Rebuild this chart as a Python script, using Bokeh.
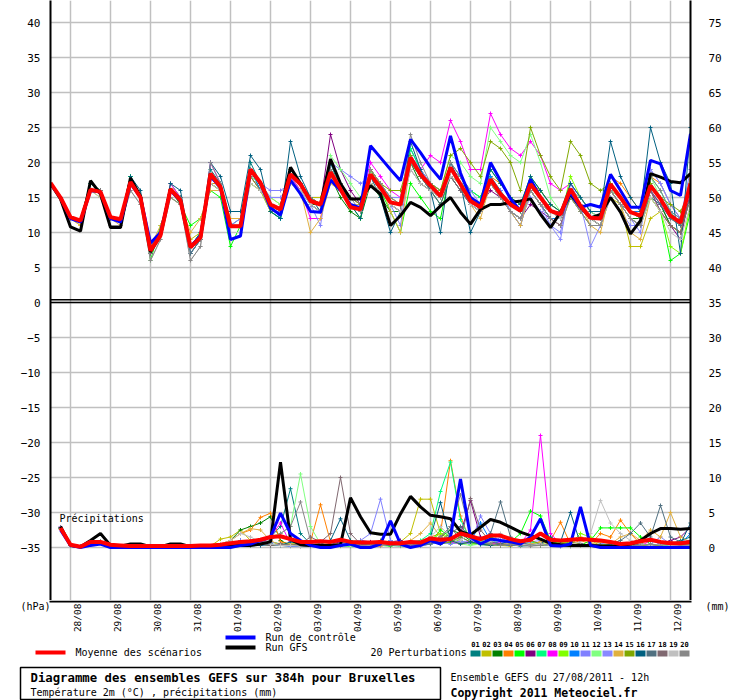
import math
from bokeh.plotting import figure
from bokeh.layouts import column
from bokeh.models import Range1d, LinearAxis, FixedTicker, Label, Span, Grid
from bokeh.core.properties import value
from bokeh.embed import file_html
from bokeh.resources import INLINE

# ---------------- data ----------------
HOURS = list(range(0, 385, 6))          # 6-hourly steps, 0..384 h
PRECIP_HOURS = HOURS[1:]
DATE_HOURS = [12, 36, 60, 84, 108, 132, 156, 180, 204, 228, 252, 276, 300, 324, 348, 372]
DATE_LABELS = ["28/08", "29/08", "30/08", "31/08", "01/09", "02/09", "03/09", "04/09",
               "05/09", "06/09", "07/09", "08/09", "09/09", "10/09", "11/09", "12/09"]
LEFT_TICKS = [-35, -30, -25, -20, -15, -10, -5, 0, 5, 10, 15, 20, 25, 30, 35, 40]
RIGHT_TICKS = [0, 5, 10, 15, 20, 25, 30, 35, 40, 45, 50, 55, 60, 65, 70, 75]

# temperature 2m (degC)
T_MEAN = [17.1, 15.0, 12.2, 11.7, 16.1, 15.8, 12.2, 11.9, 17.2, 15.0, 7.4, 9.6, 16.2,
          14.6, 7.9, 9.3, 18.4, 16.5, 10.9, 10.9, 19.0, 17.1, 14.0, 13.3, 18.3,
          16.9, 14.5, 14.0, 18.6, 16.2, 13.6, 13.3, 18.3, 16.4, 14.3, 14.0, 20.7,
          18.3, 16.7, 15.2, 19.3, 16.9, 14.5, 13.6, 17.6, 15.5, 14.0, 13.1, 16.9,
          15.0, 13.1, 12.6, 16.2, 13.8, 12.1, 12.0, 16.9, 15.0, 12.9, 12.4, 16.7,
          14.8, 12.4, 11.4, 17.0]
T_CTRL = [17.0, 15.0, 12.0, 11.5, 16.0, 15.8, 12.0, 11.5, 17.0, 15.0, 8.5, 10.0, 16.0,
          14.5, 8.0, 9.5, 18.0, 16.5, 9.0, 9.5, 19.0, 17.0, 13.5, 12.5, 17.5,
          15.5, 13.0, 12.9, 17.5, 16.0, 14.0, 13.5, 22.4, 20.7, 19.0, 17.4, 23.3,
          21.4, 19.3, 17.6, 23.8, 18.5, 15.0, 14.0, 20.0, 17.4, 14.8, 13.1, 17.6,
          15.0, 13.1, 12.6, 15.7, 13.6, 14.0, 13.6, 18.3, 16.0, 13.6, 13.6, 20.3,
          19.8, 16.0, 15.3, 24.1]
T_GFS = [17.0, 14.8, 10.8, 10.2, 17.4, 15.5, 10.7, 10.7, 17.8, 15.2, 7.2, 9.6, 16.2,
         14.6, 7.9, 9.3, 18.4, 16.5, 10.9, 10.9, 19.0, 17.0, 14.0, 13.3, 19.3,
         17.0, 14.5, 14.0, 20.5, 17.0, 14.8, 14.8, 16.7, 15.5, 11.0, 12.4, 14.3,
         13.6, 12.4, 13.8, 15.0, 12.9, 11.2, 13.3, 14.0, 14.0, 14.3, 14.5, 14.8,
         12.6, 10.7, 12.9, 15.5, 13.6, 12.1, 12.6, 15.0, 12.9, 9.8, 11.7, 18.4,
         17.9, 17.3, 17.1, 18.4]

t_p01 = [17, 15, 12, 12, 16, 16, 12, 12, 18, 15, 8, 10, 16, 15, 7, 9, 19, 17, 11, 12, 20,
         17, 13, 12, 19, 17, 14, 13, 20, 16, 14, 13, 19, 17, 15, 14, 22, 19, 17, 15, 20,
         18, 15, 13, 17, 15, 13, 12, 16, 14, 12, 12, 15, 13, 11, 11, 16, 14, 12, 11, 15,
         14, 11, 10, 15]
t_p02 = [17, 15, 12, 11, 16, 15, 12, 12, 17, 15, 8, 10, 17, 15, 9, 10, 17, 16, 12, 12, 18,
         16, 15, 14, 17, 16, 15, 15, 18, 17, 15, 14, 17, 16, 15, 14, 20, 18, 17, 16, 18,
         16, 15, 14, 17, 15, 14, 13, 16, 14, 12, 11, 15, 13, 11, 11, 15, 14, 8, 8, 12,
         13, 11, 10, 15]
t_p03 = [17, 15, 12, 12, 17, 16, 12, 12, 18, 15, 7, 10, 16, 14, 7, 9, 18, 16, 11, 11, 19,
         16, 14, 13, 17, 16, 14, 14, 18, 15, 13, 12, 17, 15, 13, 13, 20, 17, 16, 14, 18,
         16, 14, 13, 17, 15, 13, 12, 16, 14, 12, 12, 15, 14, 12, 11, 16, 14, 12, 12, 16,
         14, 11, 10, 16]
t_p04 = [17, 15, 12, 12, 16, 16, 12, 12, 17, 15, 7, 10, 16, 15, 8, 9, 17, 17, 11, 11, 18,
         16, 14, 13, 18, 17, 15, 14, 19, 17, 15, 14, 19, 17, 15, 15, 21, 19, 17, 16, 19,
         18, 16, 15, 18, 17, 15, 14, 17, 16, 14, 13, 16, 15, 13, 13, 18, 17, 15, 13, 18,
         17, 14, 12, 18]
t_p05 = [17, 15, 12, 12, 16, 16, 12, 12, 18, 15, 6, 11, 15, 14, 11, 12, 16, 15, 8, 11, 17,
         16, 13, 12, 18, 16, 14, 13, 19, 17, 14, 12, 19, 16, 13, 10, 17, 15, 13, 12, 19,
         18, 16, 15, 19, 17, 15, 14, 18, 16, 14, 13, 15, 14, 12, 11, 16, 15, 13, 12, 15,
         13, 6, 7, 13]
t_p06 = [17, 15, 12, 12, 16, 16, 12, 12, 17, 15, 7, 10, 16, 15, 8, 9, 18, 17, 11, 11, 19,
         17, 14, 13, 19, 17, 15, 14, 24, 19, 16, 14, 18, 16, 14, 13, 20, 18, 16, 15, 18,
         17, 15, 14, 16, 15, 13, 12, 14, 13, 12, 11, 16, 14, 12, 11, 16, 14, 12, 11, 16,
         13, 11, 9, 16]
t_p07 = [17, 15, 12, 12, 17, 16, 12, 12, 18, 15, 7, 10, 17, 15, 8, 10, 18, 17, 10, 10, 19,
         17, 14, 13, 18, 17, 15, 14, 19, 16, 14, 13, 19, 17, 15, 15, 22, 19, 17, 16, 19,
         17, 16, 15, 18, 16, 14, 13, 17, 15, 13, 13, 17, 15, 13, 12, 16, 15, 13, 12, 18,
         16, 13, 11, 17]
t_p08 = [17, 15, 12, 12, 16, 16, 12, 12, 17, 15, 7, 10, 17, 15, 8, 9, 20, 17, 11, 11, 19,
         17, 14, 13, 18, 16, 12, 12, 19, 17, 15, 14, 20, 18, 16, 15, 21, 19, 21, 20, 26,
         23, 19, 19, 27, 24, 22, 21, 23, 21, 17, 16, 17, 15, 13, 12, 16, 15, 13, 12, 16,
         14, 12, 11, 16]
t_p09 = [17, 15, 12, 12, 16, 16, 12, 12, 17, 15, 7, 10, 16, 15, 8, 9, 17, 16, 11, 11, 18,
         16, 14, 13, 18, 17, 15, 14, 19, 16, 14, 13, 18, 16, 14, 14, 21, 18, 16, 15, 18,
         17, 15, 14, 17, 15, 13, 12, 16, 14, 13, 12, 18, 15, 13, 12, 16, 14, 12, 11, 15,
         13, 8, 7, 14]
t_p10 = [17, 15, 12, 12, 16, 16, 12, 12, 17, 15, 8, 10, 16, 15, 8, 9, 18, 17, 10, 10, 19,
         16, 14, 12, 18, 17, 15, 14, 18, 16, 14, 13, 19, 17, 14, 14, 20, 18, 16, 15, 19,
         17, 15, 14, 18, 16, 13, 11, 16, 14, 12, 12, 16, 14, 12, 12, 17, 15, 13, 13, 17,
         15, 13, 12, 16]
t_p11 = [17, 15, 12, 12, 16, 16, 12, 12, 17, 15, 8, 10, 16, 15, 8, 9, 18, 17, 11, 11, 18,
         17, 16, 16, 17, 16, 14, 11, 20, 19, 18, 17, 18, 16, 14, 11, 21, 19, 17, 16, 19,
         18, 16, 14, 17, 16, 13, 11, 16, 14, 11, 10, 17, 15, 13, 12, 16, 14, 12, 10, 19,
         17, 14, 12, 19]
t_p12 = [17, 15, 12, 12, 16, 16, 12, 12, 17, 15, 8, 10, 16, 15, 8, 10, 17, 16, 12, 12, 18,
         17, 15, 14, 19, 17, 14, 13, 21, 19, 17, 15, 18, 16, 14, 13, 20, 18, 17, 16, 21,
         20, 18, 17, 25, 23, 21, 20, 24, 20, 15, 13, 16, 15, 13, 12, 16, 15, 13, 12, 18,
         15, 12, 11, 16]
t_p13 = [17, 15, 12, 12, 16, 16, 12, 12, 17, 15, 7, 10, 16, 15, 7, 9, 18, 16, 11, 12, 19,
         17, 15, 15, 17, 16, 14, 13, 19, 17, 15, 14, 19, 17, 15, 15, 21, 19, 17, 16, 18,
         16, 14, 13, 17, 15, 13, 12, 15, 13, 11, 9, 17, 14, 8, 11, 15, 13, 11, 11, 19,
         17, 14, 12, 17]
t_p14 = [17, 15, 12, 11, 16, 16, 12, 11, 17, 15, 8, 11, 15, 14, 10, 12, 16, 16, 12, 12, 17,
         16, 13, 13, 17, 16, 10, 12, 17, 16, 14, 14, 19, 17, 13, 10, 20, 18, 16, 15, 19,
         17, 14, 12, 17, 15, 13, 11, 16, 14, 13, 13, 16, 14, 11, 10, 16, 14, 10, 9, 15,
         13, 11, 10, 18]
t_p15 = [17, 15, 12, 12, 16, 16, 12, 12, 17, 15, 7, 10, 16, 15, 8, 9, 18, 17, 11, 11, 19,
         17, 14, 13, 19, 17, 15, 14, 19, 17, 15, 14, 19, 17, 16, 16, 21, 18, 17, 16, 21,
         22, 20, 18, 23, 22, 20, 16, 25, 21, 18, 16, 23, 21, 17, 16, 17, 15, 13, 12, 17,
         15, 14, 13, 16]
t_p16 = [17, 15, 12, 12, 17, 16, 12, 12, 18, 16, 7, 10, 17, 16, 8, 10, 20, 18, 13, 13, 21,
         19, 13, 12, 23, 18, 15, 13, 20, 17, 14, 12, 18, 15, 10, 13, 23, 19, 16, 10, 20,
         17, 10, 13, 19, 17, 15, 14, 18, 16, 14, 13, 17, 15, 13, 13, 23, 18, 15, 13, 25,
         20, 17, 7, 25]
t_p17 = [17, 15, 12, 12, 16, 16, 12, 12, 17, 15, 8, 10, 16, 15, 7, 9, 18, 17, 11, 11, 19,
         17, 14, 13, 18, 17, 14, 13, 19, 16, 14, 13, 18, 16, 14, 13, 20, 18, 16, 14, 18,
         16, 14, 13, 17, 15, 14, 13, 16, 14, 13, 13, 15, 14, 12, 12, 16, 14, 13, 12, 16,
         14, 12, 11, 15]
t_p18 = [17, 15, 12, 12, 16, 16, 12, 12, 17, 15, 7, 10, 16, 15, 8, 9, 17, 16, 11, 11, 18,
         16, 14, 13, 18, 17, 14, 13, 18, 16, 14, 13, 18, 16, 14, 13, 19, 17, 16, 15, 18,
         16, 14, 13, 17, 15, 13, 12, 16, 14, 13, 12, 16, 14, 12, 11, 16, 14, 12, 11, 16,
         13, 11, 10, 15]
t_p19 = [17, 15, 12, 12, 16, 15, 11, 11, 16, 14, 6, 9, 15, 14, 6, 8, 17, 16, 10, 10, 17,
         16, 14, 13, 17, 16, 14, 13, 18, 16, 14, 13, 17, 16, 14, 13, 19, 17, 16, 15, 18,
         17, 14, 13, 17, 15, 13, 12, 16, 14, 13, 12, 16, 14, 12, 11, 16, 14, 12, 11, 15,
         13, 10, 9, 14]
t_p20 = [17, 15, 12, 12, 16, 16, 11, 11, 16, 14, 6, 9, 15, 14, 6, 8, 20, 17, 11, 11, 19,
         17, 14, 13, 19, 17, 15, 14, 19, 17, 15, 13, 19, 17, 15, 14, 24, 20, 17, 15, 20,
         18, 15, 13, 17, 15, 13, 12, 16, 14, 12, 11, 15, 13, 11, 11, 16, 14, 12, 11, 18,
         16, 13, 12, 16]

# precipitation (mm per 6 h), from +6 h
R_MEAN = [2.8, 0.4, 0.1, 0.8, 0.8, 0.4, 0.3, 0.2, 0.2, 0.2, 0.2, 0.2, 0.2, 0.2, 0.3, 0.3,
          0.4, 0.6, 0.8, 0.9, 1.1, 1.5, 1.6, 1.2, 0.8, 0.8, 0.9, 0.8, 1.1, 0.8, 0.7, 0.7,
          0.8, 0.6, 0.6, 0.8, 0.7, 1.3, 1.1, 1.2, 2.0, 1.6, 1.2, 1.7, 1.7, 1.2, 0.9, 1.1,
          2.0, 1.1, 1.0, 1.1, 1.2, 1.1, 1.0, 0.8, 0.5, 0.6, 0.9, 1.1, 0.8, 0.6, 0.6, 0.8]
R_CTRL = [2.5, 0.3, 0.0, 0.3, 0.5, 0.0, 0.0, 0.0, 0.0, 0.0, 0.0, 0.0, 0.0, 0.0, 0.0, 0.0,
          0.0, 0.0, 0.3, 0.5, 1.0, 1.5, 4.9, 2.0, 1.0, 0.3, 0.0, 0.0, 0.3, 0.5, 0.0, 0.0,
          0.5, 3.8, 0.5, 0.0, 0.3, 1.0, 0.5, 1.5, 9.8, 1.5, 0.5, 1.2, 1.0, 0.8, 0.5, 1.5,
          4.1, 0.3, 0.2, 0.5, 5.8, 0.3, 0.0, 0.0, 0.0, 0.0, 0.0, 0.0, 0.0, 0.0, 0.0, 0.0]
R_GFS = [3.0, 0.3, 0.1, 1.0, 2.0, 0.3, 0.2, 0.5, 0.5, 0.1, 0.1, 0.5, 0.5, 0.1, 0.1, 0.1,
         0.1, 0.2, 0.3, 0.3, 0.5, 0.8, 12.2, 1.2, 0.4, 0.3, 0.3, 0.3, 0.4, 7.1, 4.4, 2.1,
         1.9, 1.9, 4.8, 7.3, 5.8, 4.6, 4.4, 4.1, 2.3, 1.8, 2.9, 4.0, 3.6, 2.9, 2.2, 1.7,
         1.2, 0.6, 0.4, 0.3, 0.3, 0.3, 0.2, 0.2, 0.3, 0.5, 1.0, 2.0, 2.7, 2.7, 2.6, 2.7]

r_p01 = [2.9, 0.3, 0.1, 0.8, 0.8, 0.3, 0.2, 0.2, 0.2, 0.1, 0.1, 0.2, 0.2, 0.1, 0.1, 0.2,
         0.3, 0.5, 1.0, 1.0, 0.8, 1.5, 3.0, 8.4, 2.0, 0.5, 0.3, 0.5, 0.3, 0.2, 0.2, 0.3,
         0.5, 1.0, 0.5, 0.2, 0.4, 0.6, 1.0, 0.5, 0.8, 0.6, 0.4, 0.3, 0.5, 0.4, 0.2, 0.3,
         0.5, 0.3, 0.2, 0.2, 0.3, 0.2, 0.2, 0.2, 0.1, 0.2, 0.2, 0.3, 0.2, 0.5, 1.0, 1.5]
r_p02 = [2.7, 0.3, 0.1, 0.7, 0.7, 0.3, 0.2, 0.2, 0.2, 0.1, 0.1, 0.2, 0.2, 0.1, 0.1, 0.2,
         1.2, 1.5, 2.5, 1.0, 0.3, 0.5, 0.3, 0.2, 0.3, 0.5, 0.3, 0.4, 0.5, 0.6, 0.5, 0.3,
         0.5, 0.4, 0.8, 2.0, 6.9, 6.9, 2.0, 1.0, 0.8, 0.5, 0.8, 0.5, 0.3, 0.2, 0.5, 0.4,
         0.3, 0.5, 0.8, 0.5, 1.5, 1.0, 0.3, 0.2, 0.2, 0.3, 0.5, 0.4, 0.3, 0.2, 0.3, 0.5]
r_p03 = [2.8, 0.3, 0.1, 0.8, 0.8, 0.3, 0.2, 0.2, 0.2, 0.1, 0.1, 0.2, 0.2, 0.1, 0.1, 0.2,
         0.3, 1.0, 2.5, 3.0, 3.5, 4.4, 1.0, 0.3, 0.2, 0.2, 0.3, 0.3, 0.2, 0.5, 0.3, 0.2,
         0.3, 0.5, 0.3, 0.2, 0.5, 0.8, 1.5, 2.5, 2.0, 1.0, 0.5, 0.5, 0.3, 0.8, 0.5, 0.4,
         0.3, 0.5, 0.3, 0.2, 0.4, 0.3, 0.2, 0.2, 0.3, 0.2, 0.2, 0.3, 0.5, 0.3, 0.2, 0.4]
r_p04 = [2.8, 0.3, 0.1, 0.8, 0.8, 0.3, 0.2, 0.2, 0.2, 0.1, 0.1, 0.2, 0.2, 0.1, 0.1, 0.2,
         0.5, 1.0, 2.0, 2.5, 4.3, 4.9, 0.8, 0.5, 0.5, 0.8, 6.1, 0.8, 0.5, 0.3, 0.5, 0.3,
         0.2, 0.5, 0.3, 0.5, 0.8, 1.5, 2.0, 12.4, 4.5, 0.8, 1.0, 0.5, 0.5, 1.0, 0.5, 0.5,
         0.8, 1.0, 3.6, 0.5, 1.0, 0.5, 2.0, 1.5, 3.9, 2.0, 0.5, 0.3, 0.3, 0.5, 0.8, 0.5]
r_p05 = [2.7, 0.3, 0.1, 0.7, 0.8, 0.3, 0.2, 0.2, 0.2, 0.1, 0.1, 0.2, 0.2, 0.1, 0.1, 0.2,
         0.2, 0.3, 0.5, 0.3, 0.5, 0.8, 0.5, 0.3, 0.2, 0.3, 0.2, 0.5, 0.3, 0.2, 0.3, 0.2,
         0.3, 0.2, 0.5, 0.3, 0.5, 0.8, 2.5, 1.5, 1.0, 0.5, 0.8, 1.5, 1.0, 0.8, 2.0, 5.2,
         4.5, 1.0, 0.5, 0.3, 0.3, 1.0, 2.8, 2.8, 2.8, 2.8, 1.5, 0.5, 0.3, 0.2, 0.5, 0.3]
r_p06 = [2.8, 0.3, 0.1, 0.8, 0.8, 0.3, 0.2, 0.2, 0.2, 0.1, 0.1, 0.2, 0.2, 0.1, 0.1, 0.2,
         0.3, 0.5, 0.8, 1.0, 0.5, 0.3, 0.5, 0.3, 0.2, 0.3, 0.2, 0.5, 0.8, 0.5, 1.0, 0.8,
         0.5, 0.8, 1.0, 0.5, 0.3, 0.5, 0.8, 1.2, 2.0, 6.7, 1.5, 0.8, 0.5, 0.3, 0.5, 0.3,
         0.5, 0.3, 0.2, 0.5, 0.3, 0.2, 0.2, 0.3, 0.2, 0.2, 0.5, 0.3, 0.5, 1.0, 1.5, 2.9]
r_p07 = [2.8, 0.3, 0.1, 0.8, 0.8, 0.3, 0.2, 0.2, 0.2, 0.1, 0.1, 0.2, 0.2, 0.1, 0.1, 0.2,
         0.2, 0.3, 0.5, 0.8, 0.5, 0.3, 0.5, 0.3, 0.3, 0.2, 0.3, 0.5, 0.3, 0.5, 0.3, 0.3,
         0.5, 0.3, 0.5, 0.8, 1.0, 2.0, 8.0, 12.2, 4.0, 1.0, 0.8, 0.5, 0.5, 0.3, 0.5, 0.8,
         0.5, 0.3, 0.3, 0.2, 0.3, 0.5, 0.3, 0.2, 0.2, 0.3, 0.2, 0.2, 0.3, 0.2, 0.3, 0.2]
r_p08 = [2.9, 0.3, 0.1, 0.8, 0.8, 0.3, 0.2, 0.2, 0.2, 0.1, 0.1, 0.2, 0.2, 0.1, 0.1, 0.2,
         0.3, 0.5, 1.0, 1.0, 0.5, 1.5, 3.5, 0.5, 0.3, 0.2, 0.3, 0.2, 0.3, 0.3, 0.2, 0.2,
         0.3, 0.5, 0.3, 0.2, 0.5, 0.8, 1.0, 0.8, 0.5, 1.0, 0.5, 0.5, 0.8, 0.5, 0.5, 2.5,
         16.0, 2.0, 0.5, 0.3, 0.3, 0.2, 0.3, 0.2, 0.2, 0.3, 0.2, 1.0, 0.5, 0.3, 0.2, 0.2]
r_p09 = [2.7, 0.3, 0.1, 0.8, 0.8, 0.3, 0.2, 0.2, 0.2, 0.1, 0.1, 0.2, 0.2, 0.1, 0.1, 0.2,
         0.2, 0.3, 0.5, 0.5, 0.3, 0.8, 0.5, 0.5, 0.8, 0.5, 0.3, 0.3, 0.5, 1.0, 0.8, 0.5,
         0.3, 0.5, 0.8, 0.5, 0.3, 1.0, 2.0, 1.5, 0.8, 0.5, 0.5, 0.3, 0.5, 1.0, 0.8, 0.5,
         0.5, 0.5, 0.8, 0.5, 2.0, 1.5, 0.5, 0.3, 0.2, 0.3, 0.3, 0.2, 0.3, 0.5, 0.3, 0.2]
r_p10 = [2.8, 0.3, 0.1, 0.8, 0.8, 0.3, 0.2, 0.2, 0.2, 0.1, 0.1, 0.2, 0.2, 0.1, 0.1, 0.2,
         0.2, 0.5, 1.0, 0.5, 0.3, 0.5, 0.3, 0.2, 0.2, 0.3, 0.2, 0.3, 0.5, 0.3, 0.2, 0.3,
         0.5, 0.3, 0.2, 0.3, 0.5, 1.0, 0.5, 0.8, 1.5, 0.8, 3.5, 1.0, 0.5, 0.3, 0.5, 0.3,
         0.5, 0.3, 0.2, 0.3, 0.5, 0.3, 0.2, 0.2, 0.3, 0.2, 0.2, 0.3, 0.5, 0.3, 0.5, 2.0]
r_p11 = [2.8, 0.3, 0.1, 0.8, 0.8, 0.3, 0.2, 0.2, 0.2, 0.1, 0.1, 0.2, 0.2, 0.1, 0.1, 0.2,
         0.2, 0.3, 0.8, 0.5, 0.5, 0.8, 0.5, 0.3, 0.3, 0.5, 0.5, 0.3, 0.5, 0.8, 1.0, 2.0,
         6.9, 1.0, 0.5, 0.3, 0.2, 0.5, 0.8, 1.0, 0.8, 0.5, 4.5, 2.0, 0.8, 0.5, 0.3, 0.5,
         0.5, 0.3, 0.5, 0.3, 0.5, 0.3, 0.2, 0.2, 0.5, 0.3, 0.2, 0.3, 0.5, 0.3, 0.2, 0.3]
r_p12 = [2.8, 0.3, 0.1, 0.8, 0.8, 0.3, 0.2, 0.2, 0.2, 0.1, 0.1, 0.2, 0.2, 0.1, 0.1, 0.2,
         0.3, 0.5, 0.8, 0.5, 1.0, 1.5, 2.0, 3.0, 10.5, 3.0, 0.5, 0.5, 0.3, 0.2, 0.3, 0.5,
         0.5, 0.3, 0.2, 0.5, 0.3, 0.5, 0.8, 1.0, 0.5, 0.3, 0.5, 0.8, 1.0, 0.5, 0.8, 0.5,
         0.5, 0.3, 0.3, 0.5, 0.3, 0.2, 0.2, 0.3, 0.2, 0.3, 0.5, 0.3, 0.2, 0.3, 0.2, 0.3]
r_p13 = [2.8, 0.3, 0.1, 0.8, 0.8, 0.3, 0.2, 0.2, 0.2, 0.1, 0.1, 0.2, 0.2, 0.1, 0.1, 0.2,
         0.2, 0.3, 1.0, 0.5, 0.3, 0.5, 0.3, 0.2, 0.2, 0.3, 0.2, 0.3, 0.5, 0.3, 0.2, 0.3,
         0.3, 0.5, 0.3, 0.2, 0.3, 0.5, 0.8, 0.5, 0.8, 1.0, 0.5, 0.5, 1.5, 0.5, 0.3, 0.8,
         1.0, 0.5, 0.5, 0.3, 0.5, 0.3, 0.5, 0.8, 0.5, 0.3, 0.2, 0.5, 1.5, 0.5, 0.3, 0.5]
r_p14 = [2.8, 0.3, 0.1, 0.8, 0.8, 0.3, 0.2, 0.2, 0.2, 0.1, 0.1, 0.2, 0.2, 0.1, 0.1, 0.2,
         0.5, 1.0, 2.0, 2.7, 2.5, 1.0, 0.3, 0.5, 0.5, 0.3, 0.3, 0.2, 0.3, 0.5, 0.3, 0.2,
         0.3, 0.5, 0.3, 1.0, 2.0, 3.5, 1.5, 1.0, 0.5, 0.8, 0.5, 0.3, 0.5, 0.5, 0.3, 0.5,
         0.8, 0.5, 0.3, 0.5, 0.3, 0.5, 0.8, 0.5, 1.5, 2.0, 1.0, 2.5, 1.5, 5.0, 1.5, 0.8]
r_p15 = [2.8, 0.3, 0.1, 0.8, 0.8, 0.3, 0.2, 0.2, 0.2, 0.1, 0.1, 0.2, 0.2, 0.1, 0.1, 0.2,
         0.2, 0.3, 0.5, 0.8, 0.5, 0.3, 0.5, 0.3, 0.5, 0.8, 0.5, 0.3, 0.3, 0.5, 0.8, 0.5,
         1.0, 0.5, 0.3, 0.5, 0.8, 1.0, 0.5, 0.8, 1.5, 0.8, 0.5, 0.5, 0.3, 0.5, 0.8, 1.0,
         0.5, 0.3, 0.5, 0.8, 0.5, 0.3, 0.3, 0.2, 0.3, 0.5, 0.3, 0.2, 0.3, 0.8, 0.5, 0.3]
r_p16 = [2.8, 0.3, 0.1, 0.8, 0.8, 0.3, 0.2, 0.2, 0.2, 0.1, 0.1, 0.2, 0.2, 0.1, 0.1, 0.2,
         0.3, 0.5, 0.8, 0.5, 0.3, 0.5, 0.3, 0.8, 0.5, 1.0, 0.5, 1.0, 4.1, 1.0, 0.5, 0.3,
         0.5, 0.3, 0.5, 0.5, 0.5, 1.5, 6.4, 1.0, 0.5, 0.8, 0.5, 0.3, 0.5, 1.0, 0.5, 0.3,
         0.5, 1.5, 0.8, 5.0, 0.5, 0.3, 0.3, 0.2, 0.3, 0.2, 0.5, 0.3, 0.5, 0.3, 0.5, 3.5]
r_p17 = [2.8, 0.3, 0.1, 0.8, 0.8, 0.3, 0.2, 0.2, 0.2, 0.1, 0.1, 0.2, 0.2, 0.1, 0.1, 0.2,
         0.2, 0.3, 0.5, 0.3, 0.5, 0.3, 0.5, 0.3, 0.3, 0.2, 0.5, 0.3, 0.5, 0.3, 0.2, 0.3,
         0.3, 0.5, 0.3, 0.5, 0.3, 0.5, 1.0, 2.0, 3.0, 1.5, 1.0, 2.0, 6.5, 1.5, 0.8, 0.3,
         0.5, 0.3, 0.2, 0.3, 0.5, 0.3, 0.2, 0.5, 1.0, 2.0, 3.5, 1.5, 6.0, 1.5, 0.8, 1.0]
r_p18 = [2.8, 0.3, 0.1, 0.8, 0.8, 0.3, 0.2, 0.2, 0.2, 0.1, 0.1, 0.2, 0.2, 0.1, 0.1, 0.2,
         0.2, 0.3, 0.5, 0.3, 0.5, 0.3, 0.5, 0.3, 0.5, 1.5, 0.8, 2.0, 10.0, 2.0, 0.5, 0.3,
         0.5, 0.3, 0.5, 0.3, 0.5, 0.8, 1.5, 3.0, 1.0, 7.0, 2.5, 0.8, 0.5, 0.3, 0.5, 0.3,
         0.5, 0.3, 0.2, 0.3, 0.5, 0.3, 0.2, 0.3, 0.2, 0.3, 0.5, 0.3, 0.5, 0.8, 0.5, 0.3]
r_p19 = [2.6, 0.3, 0.1, 0.7, 0.7, 0.3, 0.2, 0.2, 0.2, 0.1, 0.1, 0.2, 0.2, 0.1, 0.1, 0.2,
         0.5, 1.0, 2.0, 1.5, 0.8, 0.5, 0.3, 0.3, 0.2, 0.3, 0.2, 0.3, 0.5, 0.3, 0.2, 0.3,
         0.3, 0.5, 0.3, 0.5, 0.8, 1.5, 3.0, 1.5, 1.0, 2.0, 1.0, 0.8, 2.0, 1.0, 0.5, 0.3,
         0.5, 0.3, 0.3, 0.5, 0.8, 2.0, 6.7, 3.5, 2.0, 1.0, 0.5, 0.3, 0.5, 0.3, 0.2, 0.3]
r_p20 = [2.8, 0.3, 0.1, 0.8, 0.8, 0.3, 0.2, 0.2, 0.2, 0.1, 0.1, 0.2, 0.2, 0.1, 0.1, 0.2,
         0.3, 0.5, 0.8, 0.5, 0.8, 1.0, 2.0, 3.0, 6.5, 1.0, 0.3, 0.5, 0.3, 0.5, 0.3, 0.2,
         0.3, 0.5, 0.3, 0.5, 0.5, 0.8, 1.5, 3.0, 7.5, 2.0, 1.0, 0.5, 0.3, 0.5, 0.3, 0.2,
         0.3, 0.5, 0.3, 0.2, 0.3, 0.5, 0.3, 0.2, 0.3, 0.2, 0.3, 0.5, 0.3, 0.5, 0.3, 0.2]

PERT_NAMES = ["01", "02", "03", "04", "05", "06", "07", "08", "09", "10",
              "11", "12", "13", "14", "15", "16", "17", "18", "19", "20"]
PERT_COLORS = ["#008080", "#c0c000", "#008000", "#ff8000", "#00ff00", "#800080", "#00ff80",
               "#ff00ff", "#80ff00", "#0080ff", "#8080ff", "#80ff80", "#8888ff", "#e0b040",
               "#80a800", "#006080", "#507080", "#806870", "#c0c0c0", "#888888"]
PERT_T = [t_p01, t_p02, t_p03, t_p04, t_p05, t_p06, t_p07, t_p08, t_p09, t_p10,
          t_p11, t_p12, t_p13, t_p14, t_p15, t_p16, t_p17, t_p18, t_p19, t_p20]
PERT_R = [r_p01, r_p02, r_p03, r_p04, r_p05, r_p06, r_p07, r_p08, r_p09, r_p10,
          r_p11, r_p12, r_p13, r_p14, r_p15, r_p16, r_p17, r_p18, r_p19, r_p20]

# ---------------- layout helpers (page pixel -> data) ----------------
FONT = "DejaVu Sans Mono"
PX_LEFT, PX_RIGHT = 50, 690          # frame in page pixels
PY_ZERO = 302                        # page y of value 0
PX_PER_UNIT = 7.0
W = 740
H_MAIN = 600
H_FOOT = 100


def hx(px):
    return (px - PX_LEFT) * 384.0 / (PX_RIGHT - PX_LEFT)


def vy(py):
    return (PY_ZERO - py) / PX_PER_UNIT


# ================= main chart =================
p = figure(width=W, height=H_MAIN, output_backend="svg", toolbar_location=None,
           x_range=Range1d(0, 384), y_range=Range1d(vy(H_MAIN), vy(0)),
           x_axis_location=None, y_axis_location=None,
           min_border_left=PX_LEFT, min_border_right=W - PX_RIGHT,
           min_border_top=0, min_border_bottom=0)
p.frame_align = False
p.extra_y_ranges = {"mm": Range1d(vy(H_MAIN) + 35, vy(0) + 35)}
p.outline_line_color = None
p.grid.visible = False


def style_axis(ax, standoff):
    ax.major_tick_in = 0
    ax.major_tick_out = 0
    ax.minor_tick_line_color = None
    ax.axis_line_color = "black"
    ax.axis_line_width = 2
    ax.major_label_standoff = standoff
    ax.major_label_text_font = FONT
    ax.major_label_text_font_size = "11px"
    ax.major_label_text_color = "black"


laxis = LinearAxis(ticker=FixedTicker(ticks=LEFT_TICKS))
style_axis(laxis, 10)
p.add_layout(laxis, "left")
raxis = LinearAxis(y_range_name="mm", ticker=FixedTicker(ticks=RIGHT_TICKS))
style_axis(raxis, 18)
p.add_layout(raxis, "right")

xg = Grid(dimension=0, ticker=FixedTicker(ticks=DATE_HOURS),
          grid_line_color="#c0c0c0", grid_line_width=1.5)
yg = Grid(dimension=1, ticker=FixedTicker(ticks=LEFT_TICKS),
          grid_line_color="#c0c0c0", grid_line_width=1.5)
p.add_layout(xg, "center")
p.add_layout(yg, "center")

# double separator between the two panels
p.add_layout(Span(location=0, dimension="width", line_color="black", line_width=1.5))
p.add_layout(Span(location=0.4, dimension="width", line_color="black", line_width=1.5))

# perturbations
for t, r, c in zip(PERT_T, PERT_R, PERT_COLORS):
    p.line(HOURS, t, line_color=c, line_width=1)
    p.scatter(HOURS, t, marker="cross", size=4, line_color=c, line_width=1)
    p.line(PRECIP_HOURS, r, line_color=c, line_width=1, y_range_name="mm")
    p.scatter(PRECIP_HOURS, r, marker="cross", size=4, line_color=c, line_width=1,
              y_range_name="mm")

# GFS, control, mean
p.line(HOURS, T_GFS, line_color="black", line_width=3)
p.line(PRECIP_HOURS, R_GFS, line_color="black", line_width=3, y_range_name="mm")
p.line(HOURS, T_CTRL, line_color="#0000ff", line_width=3)
p.line(PRECIP_HOURS, R_CTRL, line_color="#0000ff", line_width=3, y_range_name="mm")
p.line(HOURS, T_MEAN, line_color="#ff0000", line_width=4)
p.line(PRECIP_HOURS, R_MEAN, line_color="#ff0000", line_width=4, y_range_name="mm")

p.add_layout(Label(x=hx(59), y=vy(518), text="Précipitations", text_font=FONT,
                   text_font_size="10px", text_baseline="middle", text_color="black"))

# ================= footer (axis labels + legend), page-pixel y =================
f = figure(width=W, height=H_FOOT, output_backend="svg", toolbar_location=None,
           x_range=Range1d(hx(0), hx(W)), y_range=Range1d(H_MAIN + H_FOOT, H_MAIN),
           x_axis_location=None, y_axis_location=None,
           min_border_left=0, min_border_right=0, min_border_top=0, min_border_bottom=0)
f.frame_align = False
f.outline_line_color = None
f.grid.visible = False

# bottom frame line
f.segment(x0=hx(PX_LEFT - 1), y0=H_MAIN + 1, x1=hx(PX_RIGHT + 1), y1=H_MAIN + 1,
          line_color="black", line_width=2)

# date labels (vertical)
f.text(x=DATE_HOURS, y=H_MAIN + 3, text=DATE_LABELS, angle=math.pi / 2,
       text_align="right", text_baseline="top", x_offset=1,
       text_font=value(FONT), text_font_size="9.5px", text_color="black")


def ftext(px, py, text, size="10px", bold=False, align="left"):
    f.text(x=[hx(px)], y=[py], text=[text], text_font=value(FONT), text_font_size=size,
           text_font_style="bold" if bold else "normal", text_align=align,
           text_baseline="middle", text_color="black")


def fbox(x0, y0, x1, y1, fill=None, line=None, lw=1):
    f.quad(left=[hx(x0)], right=[hx(x1)], top=[y0], bottom=[y1],
           fill_color=fill, fill_alpha=1.0 if fill else 0.0,
           line_color=line, line_width=lw, line_alpha=1.0 if line else 0.0)


ftext(20, 606, "(hPa)")
ftext(705, 606, "(mm)")

fbox(35, 650, 65, 654, fill="#ff0000")
ftext(75, 652, "Moyenne des scénarios")
fbox(225, 635, 255, 639, fill="#0000ff")
ftext(265, 637, "Run de contrôle")
fbox(225, 645, 255, 649, fill="black")
ftext(265, 647, "Run GFS")
ftext(370, 652, "20 Perturbations")
for k, (name, c) in enumerate(zip(PERT_NAMES, PERT_COLORS)):
    x0 = 470 + 11 * k
    fbox(x0, 650, x0 + 10, 656, fill=c)
    ftext(x0 + 5, 643, name, size="7px", bold=True, align="center")

fbox(20, 667, 440, 699, line="black", lw=1.5)
ftext(30, 677, "Diagramme des ensembles GEFS sur 384h pour Bruxelles", size="12.3px", bold=True)
ftext(30, 692, "Température 2m (°C) , précipitations (mm)", size="10px")
ftext(450, 677, "Ensemble GEFS du 27/08/2011 - 12h", size="10px")
ftext(450, 692, "Copyright 2011 Meteociel.fr", size="11.5px", bold=True)

layout = column(p, f, spacing=0)
open("out.html", "w").write(file_html(layout, INLINE))
